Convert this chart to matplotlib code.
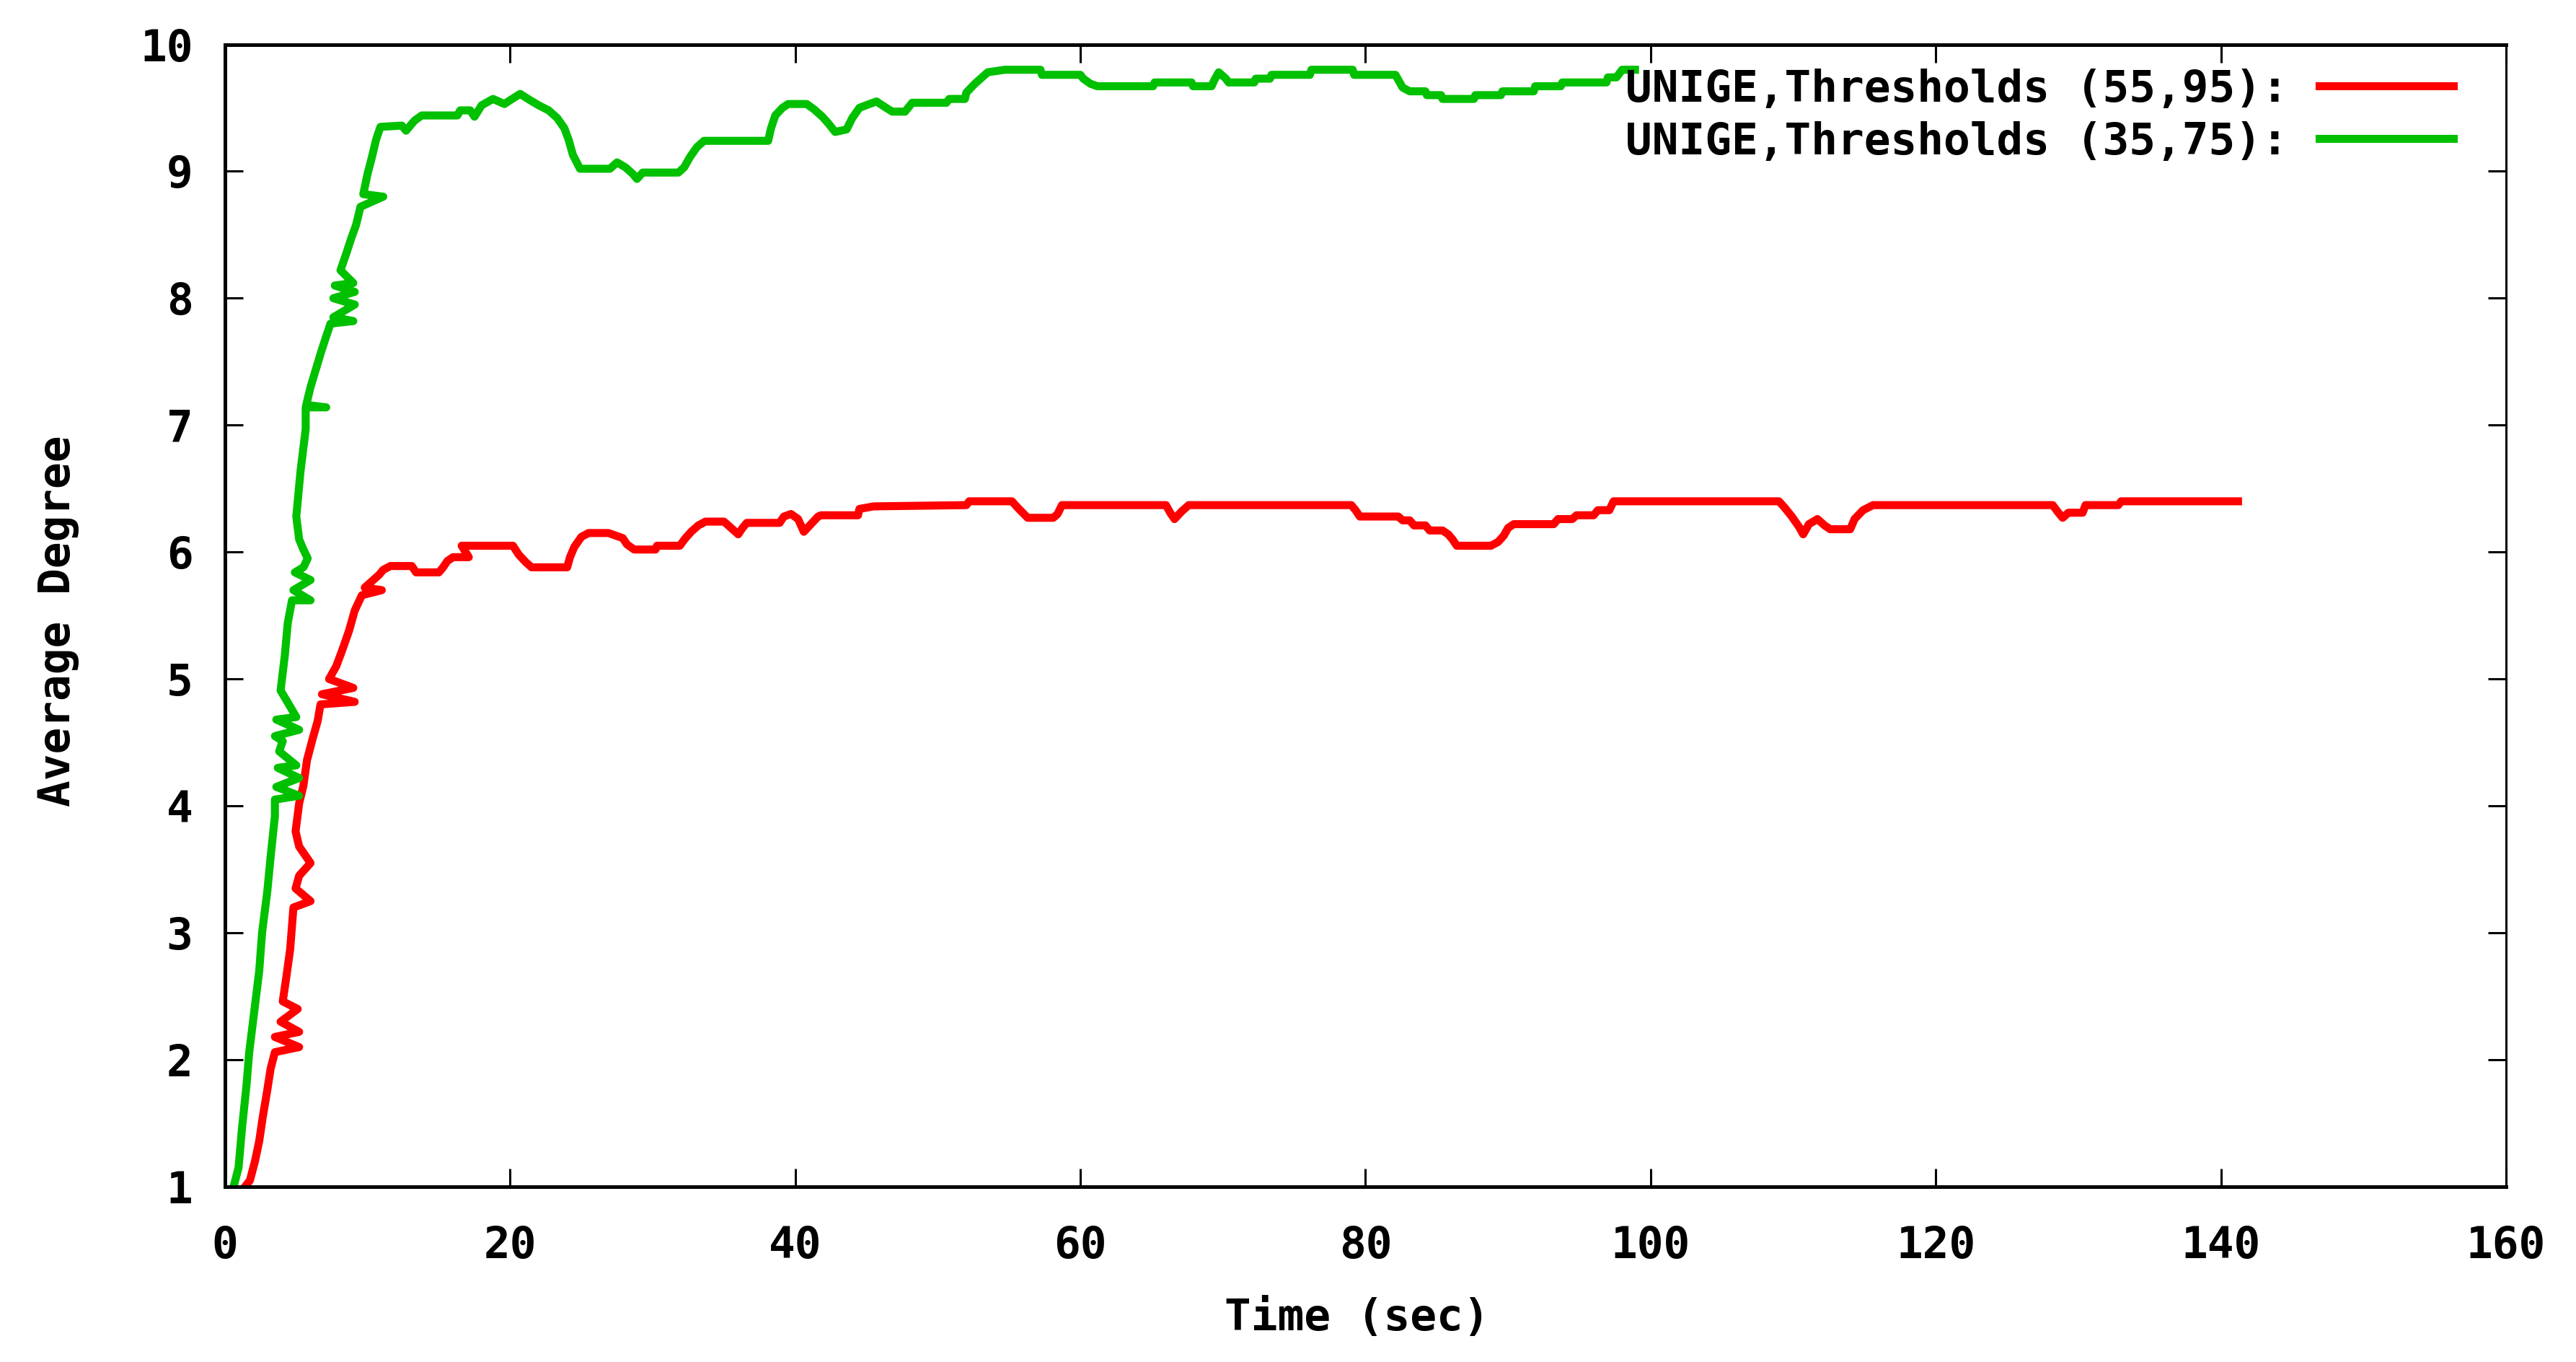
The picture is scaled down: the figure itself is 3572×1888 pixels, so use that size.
import matplotlib
matplotlib.use("Agg")
import matplotlib.pyplot as plt

# ---------------- data ----------------
red_label = "UNIGE,Thresholds (55,95):"
green_label = "UNIGE,Thresholds (35,75):"

red_t = [1.4, 1.75, 2.1, 2.4, 2.65, 2.95, 3.2, 3.5, 5.2, 3.5, 5.2, 3.9, 5.1, 4.05, 4.3, 4.57,
         4.8, 6.0, 4.95, 5.2, 6.0, 5.2, 4.95, 5.2, 5.5, 5.75, 6.1, 6.5, 6.7, 9.1, 6.8, 9.0,
         7.3, 7.8, 8.2, 8.7, 9.1, 9.6, 11.0, 9.8, 10.4, 10.8, 11.1, 11.6, 13.1, 13.4, 15.0,
         15.3, 15.6, 16.0, 17.1, 16.6, 20.2, 20.6, 21.1, 21.5, 24.0, 24.2, 24.5, 25.0, 25.5,
         26.9, 27.9, 28.2, 28.7, 30.2, 30.3, 31.9, 32.3, 32.7, 33.2, 33.7, 35.0, 35.5, 36.0,
         36.3, 36.6, 38.9, 39.2, 39.7, 40.2, 40.6, 41.1, 41.6, 41.8, 44.4, 44.5, 45.5, 52.0,
         52.2, 55.2, 55.6, 56.3, 58.1, 58.4, 58.7, 66.0, 66.3, 66.6, 67.1, 67.6, 79.0, 79.3,
         79.6, 82.3, 82.6, 83.1, 83.4, 84.2, 84.5, 85.4, 85.8, 86.1, 86.4, 88.8, 89.3, 89.7,
         90.0, 90.4, 93.2, 93.5, 94.5, 94.8, 96.0, 96.3, 97.1, 97.4, 109.0, 109.4, 109.9,
         110.4, 110.7, 111.1, 111.7, 112.2, 112.6, 114.0, 114.3, 114.9, 115.6, 128.2, 128.6,
         128.9, 129.3, 130.3, 130.5, 132.8, 133.0, 141.2]
red_deg = [1.0, 1.05, 1.2, 1.36, 1.55, 1.75, 1.93, 2.06, 2.1, 2.18, 2.22, 2.3, 2.4, 2.46, 2.65, 2.87,
           3.2, 3.25, 3.35, 3.45, 3.55, 3.68, 3.8, 4.02, 4.16, 4.36, 4.51, 4.67, 4.8, 4.82, 4.88, 4.93,
           5.0, 5.1, 5.22, 5.38, 5.54, 5.66, 5.7, 5.72, 5.78, 5.82, 5.86, 5.89, 5.89, 5.84, 5.84,
           5.88, 5.93, 5.96, 5.96, 6.05, 6.05, 5.98, 5.92, 5.88, 5.88, 5.96, 6.04, 6.12, 6.15,
           6.15, 6.11, 6.06, 6.02, 6.02, 6.05, 6.05, 6.11, 6.16, 6.21, 6.24, 6.24, 6.19, 6.14,
           6.19, 6.23, 6.23, 6.28, 6.30, 6.26, 6.16, 6.22, 6.28, 6.29, 6.29, 6.34, 6.36, 6.37,
           6.40, 6.40, 6.35, 6.27, 6.27, 6.30, 6.37, 6.37, 6.31, 6.26, 6.32, 6.37, 6.37, 6.33,
           6.28, 6.28, 6.25, 6.25, 6.21, 6.21, 6.17, 6.17, 6.14, 6.10, 6.05, 6.05, 6.08, 6.13,
           6.19, 6.22, 6.22, 6.26, 6.26, 6.29, 6.29, 6.33, 6.33, 6.40, 6.40, 6.35, 6.28,
           6.20, 6.14, 6.22, 6.26, 6.21, 6.18, 6.18, 6.26, 6.33, 6.37, 6.37, 6.31,
           6.27, 6.31, 6.31, 6.37, 6.37, 6.40, 6.40]

green_t = [0.6, 0.95, 1.2, 1.5, 1.7, 2.05, 2.4, 2.6, 2.97, 3.2, 3.5, 3.5, 5.2, 3.6, 5.2, 3.7, 5.0,
           3.8, 4.05, 3.5, 5.2, 3.6, 5.0, 3.9, 4.2, 4.4, 4.7, 6.0, 4.8, 6.0, 4.9, 5.5, 5.8, 5.5,
           5.2, 5.0, 5.3, 5.66, 5.66, 7.1, 5.7, 6.0, 6.4, 6.75, 7.1, 7.4, 9.0, 7.6, 9.1, 7.6, 9.1,
           7.7, 9.0, 8.1, 8.5, 8.85, 9.2, 9.5, 11.1, 9.7, 10.0, 10.3, 10.6, 10.9, 12.4, 12.7,
           13.3, 13.8, 16.3, 16.5, 17.2, 17.5, 18.0, 18.8, 19.6, 20.0, 20.7, 21.4, 22.0, 22.7,
           23.3, 23.8, 24.1, 24.4, 24.9, 27.0, 27.5, 28.1, 28.6, 28.9, 29.3, 31.8, 32.2, 32.6,
           33.1, 33.6, 38.1, 38.3, 38.6, 39.1, 39.5, 40.8, 41.3, 41.9, 42.3, 42.8, 43.6, 44.0,
           44.5, 45.2, 45.7, 46.1, 46.8, 47.7, 48.2, 50.6, 50.8, 51.9, 52.0, 52.6, 53.1, 53.5,
           54.7, 57.2, 57.3, 60.0, 60.2, 60.7, 61.2, 65.1, 65.2, 67.8, 67.9, 69.2, 69.4, 69.7,
           70.2, 70.4, 72.2, 72.3, 73.3, 73.4, 76.1, 76.2, 79.1, 79.2, 82.1, 82.3, 82.6, 83.1,
           84.2, 84.3, 85.3, 85.4, 87.6, 87.7, 89.5, 89.6, 91.8, 91.9, 93.7, 93.8, 96.9, 97.0,
           97.6, 98.0, 98.9]
green_deg = [1.0, 1.15, 1.47, 1.79, 2.06, 2.38, 2.7, 3.0, 3.33, 3.6, 3.92, 4.05, 4.08, 4.15, 4.22, 4.3, 4.32,
             4.43, 4.51, 4.55, 4.6, 4.68, 4.7, 4.91, 5.19, 5.44, 5.62, 5.62, 5.7, 5.78, 5.84, 5.88, 5.95, 6.02,
             6.1, 6.28, 6.64, 6.97, 7.14, 7.14, 7.16, 7.3, 7.45, 7.58, 7.7, 7.8, 7.82, 7.85, 7.95, 8.0, 8.05,
             8.1, 8.12, 8.22, 8.35, 8.47, 8.58, 8.72, 8.8, 8.82, 8.98, 9.11, 9.25, 9.35, 9.36, 9.32,
             9.40, 9.44, 9.44, 9.48, 9.48, 9.43, 9.52, 9.57, 9.53, 9.56, 9.61, 9.56, 9.52, 9.48,
             9.42, 9.34, 9.25, 9.13, 9.02, 9.02, 9.07, 9.03, 8.98, 8.94, 8.99, 8.99, 9.03, 9.11,
             9.19, 9.24, 9.24, 9.34, 9.44, 9.50, 9.53, 9.53, 9.49, 9.43, 9.38, 9.31, 9.33, 9.42,
             9.50, 9.53, 9.55, 9.52, 9.47, 9.47, 9.54, 9.54, 9.57, 9.57, 9.62, 9.69, 9.74, 9.78,
             9.80, 9.80, 9.76, 9.76, 9.73, 9.69, 9.67, 9.67, 9.70, 9.70, 9.67, 9.67, 9.72, 9.78,
             9.73, 9.70, 9.70, 9.73, 9.73, 9.76, 9.76, 9.80, 9.80, 9.76, 9.76, 9.72, 9.66, 9.63,
             9.63, 9.60, 9.60, 9.57, 9.57, 9.60, 9.60, 9.63, 9.63, 9.67, 9.67, 9.70, 9.70, 9.74,
             9.74, 9.80, 9.80]

x_ticks = [0, 20, 40, 60, 80, 100, 120, 140, 160]
y_ticks = [1, 2, 3, 4, 5, 6, 7, 8, 9, 10]
x_label = "Time (sec)"
y_label = "Average Degree"

# ---------------- figure ----------------
FONT = "DejaVu Sans Mono"
FS = 44
W, H = 3573, 1888
fig = plt.figure(figsize=(W / 100, H / 100), dpi=100)
ax = fig.add_axes([312 / W, 1 - 1645 / H, (3475 - 312) / W, (1645 - 61.5) / H])

ax.plot(red_t, red_deg, color="#ff0000", lw=8, label=red_label)
ax.plot(green_t, green_deg, color="#00c000", lw=8, label=green_label)

ax.set_xlim(0, 160)
ax.set_ylim(1, 10)
ax.set_xticks(x_ticks)
ax.set_yticks(y_ticks)
ax.set_xticklabels([str(v) for v in x_ticks], fontfamily=FONT, fontweight="bold", fontsize=FS)
ax.set_yticklabels([str(v) for v in y_ticks], fontfamily=FONT, fontweight="bold", fontsize=FS)
ax.tick_params(direction="in", top=True, right=True, length=18, width=2.2, color="black")
ax.tick_params(axis="x", pad=38)
ax.tick_params(axis="y", pad=32)

for side in ["left", "bottom", "top"]:
    ax.spines[side].set_linewidth(3.6)
ax.spines["right"].set_linewidth(2.2)

ax.set_xlabel(x_label, fontfamily=FONT, fontweight="bold", fontsize=FS, va="center")
ax.xaxis.set_label_coords((1882 - 312) / 3163, (1645 - 1828) / 1583.5)
ax.set_ylabel(y_label, fontfamily=FONT, fontweight="bold", fontsize=FS, va="center")
ax.yaxis.set_label_coords((80 - 312) / 3163, (1645 - 861) / 1583.5)

leg = ax.legend(loc="upper right", bbox_to_anchor=(0.977, 0.979), frameon=False,
                markerfirst=False, borderaxespad=0, borderpad=0,
                handlelength=3.05, handletextpad=0.7, labelspacing=0.23,
                prop={"family": FONT, "weight": "bold", "size": FS})

fig.savefig("out.png", dpi=100, facecolor="white")
